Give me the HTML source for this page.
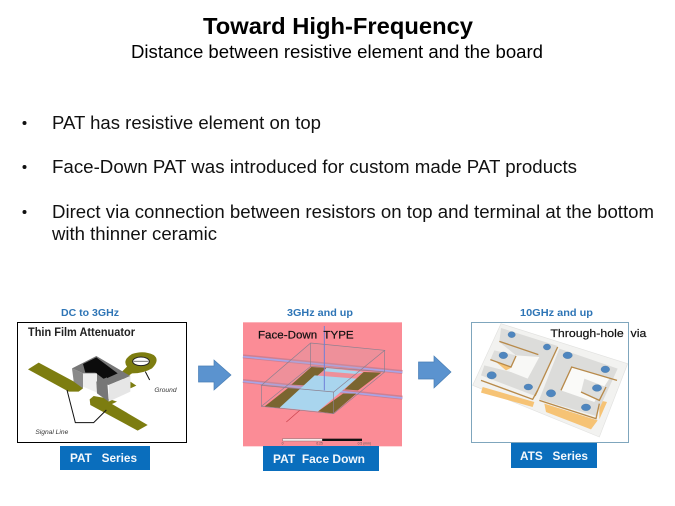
<!DOCTYPE html>
<html><head><meta charset="utf-8"><style>
html,body{margin:0;padding:0;background:#fff}
svg{display:block}
text{font-family:"Liberation Sans",Arial,sans-serif}
</style></head><body>
<svg width="675" height="506" viewBox="0 0 675 506" xmlns="http://www.w3.org/2000/svg">
<rect width="675" height="506" fill="#fff"/>
<text x="203" y="34" font-size="23" font-weight="bold" textLength="270" lengthAdjust="spacingAndGlyphs" fill="#000">Toward High-Frequency</text>
<text x="131" y="58" font-size="18" textLength="412" lengthAdjust="spacingAndGlyphs" fill="#000">Distance between resistive element and the board</text>
<g font-size="18" fill="#111">
<circle cx="24.500" cy="123" r="2" fill="#111"/><circle cx="24.500" cy="167" r="2" fill="#111"/><circle cx="24.500" cy="212" r="2" fill="#111"/>
<text x="52" y="129" textLength="269" lengthAdjust="spacingAndGlyphs">PAT has resistive element on top</text>
<text x="52" y="173" textLength="525" lengthAdjust="spacingAndGlyphs">Face-Down PAT was introduced for custom made PAT products</text>
<text x="52" y="218" textLength="602" lengthAdjust="spacingAndGlyphs">Direct via connection between resistors on top and terminal at the bottom</text>
<text x="52" y="240" textLength="165" lengthAdjust="spacingAndGlyphs">with thinner ceramic</text>
</g>
<g font-size="10.500" font-weight="bold" fill="#2e75b6">
<text x="61" y="316" textLength="58" lengthAdjust="spacingAndGlyphs">DC to 3GHz</text>
<text x="287" y="316" textLength="66" lengthAdjust="spacingAndGlyphs">3GHz and up</text>
<text x="520" y="316" textLength="73" lengthAdjust="spacingAndGlyphs">10GHz and up</text>
</g>

<!-- left panel frame, title, label, arrow -->
<rect x="17.500" y="322.500" width="169" height="120" fill="#fff" stroke="#000" stroke-width="1"/>
<text x="28" y="336" font-size="11.500" font-weight="bold" fill="#222" textLength="107" lengthAdjust="spacingAndGlyphs">Thin Film Attenuator</text>
<g transform="translate(17,340) scale(.33333)">
<path d="M33 88L65 68L190 135L198 145L185 155L155 155Z" fill="#7d7d10"/>
<path d="M218 178L230 168L270 175L300 185L285 192L392 255L362 272L220 195Z" fill="#7d7d10"/>
<path d="M305 105L330 80Q315 60 345 42Q380 30 410 45Q430 60 405 85Q380 100 345 100L320 118Z" fill="#7d7d10"/>
<ellipse cx="372" cy="64" rx="25" ry="13" fill="#fff" stroke="#222" stroke-width="3"/>
<path d="M350 64H394" stroke="#777" stroke-width="3"/>
<path d="M340 125L358 137L340 145Z" fill="#7d7d10"/>
<path d="M165 85L238 48L340 108L275 135L240 125L198 100Z" fill="#777"/>
<path d="M198 72L238 52L302 100L262 118L235 98L205 98Z" fill="#0c0c0c"/>
<path d="M165 85L198 100V145L170 125Z" fill="#8a8a8a"/>
<path d="M198 100L240 100V158L198 140Z" fill="#eee"/>
<path d="M238 125L270 112L275 185L240 160Z" fill="#777"/>
<path d="M275 135L340 108V155L275 185Z" fill="#e6e6e6"/>
<g fill="none" stroke="#111" stroke-width="3">
<path d="M150 150L175 248H230L268 210"/><path d="M385 95L398 120"/>
</g>
<text x="55" y="282" font-size="20" font-style="italic" fill="#333">Signal Line</text>
<text x="412" y="156" font-size="20" font-style="italic" fill="#333">Ground</text>
</g>
<rect x="60" y="446" width="90" height="24" fill="#0a6ebd"/>
<text x="70" y="462" font-size="11.500" font-weight="bold" fill="#f4f8fc" textLength="67" lengthAdjust="spacingAndGlyphs" xml:space="preserve">PAT   Series</text>
<path d="M198.500 366H214V360L231 375L214 390V382H198.500Z" fill="#5b93cf" stroke="#4a7fb5" stroke-width=".7"/>

<!-- middle panel -->
<g transform="translate(243,322) scale(.33333)">
<rect x="0" y="1" width="477" height="372" fill="#fb8c96"/>
<g fill="none">
<path d="M0 103L478 150" stroke="#d07f90" stroke-width="12"/>
<path d="M0 177L478 227" stroke="#d07f90" stroke-width="12"/>
<path d="M0 104L478 151" stroke="#a9a4e6" stroke-width="5"/>
<path d="M0 178L478 228" stroke="#a9a4e6" stroke-width="5"/>
</g>
<path d="M55 190L203 63L425 85L272 210Z" fill="#c79aa6" fill-opacity=".25"/>
<path d="M205 135L250 138L190 190L145 188Z" fill="#7a6530"/>
<path d="M135 198L175 200L110 258L65 253Z" fill="#7a6530"/>
<path d="M362 150L415 152L345 205L305 202Z" fill="#7a6530"/>
<path d="M300 215L340 215L270 275L225 268Z" fill="#7a6530"/>
<path d="M215 160L340 170L225 268L110 257Z" fill="#a9d5ee"/>
<path d="M250 138L362 150L340 156L245 148Z" fill="#a9d5ee"/>
<g fill="none" stroke="#8b7f8f" stroke-width="2">
<path d="M55 190L203 63L425 85L272 210Z"/><path d="M55 190V253L272 275V210"/><path d="M272 275L425 150V85"/><path d="M203 63V133L425 150"/><path d="M55 253L203 133"/>
</g>
<path d="M244 12V205" stroke="#6f7fd8" stroke-width="3"/>
<path d="M170 265L130 300" stroke="#c8404a" stroke-width="2"/>
<text x="45" y="50" font-size="33" fill="#111" stroke="#111" stroke-width=".6" textLength="287" lengthAdjust="spacingAndGlyphs" xml:space="preserve">Face-Down  TYPE</text>
<rect x="119" y="350" width="119" height="7" fill="#f6eaea" stroke="#555" stroke-width="1"/>
<rect x="238" y="350" width="119" height="7" fill="#111"/>
<g font-size="10" fill="#555"><text x="116" y="368">0</text><text x="220" y="368">0.25</text><text x="344" y="368">0.5 (mm)</text></g>
</g>
<rect x="263" y="446" width="116" height="25" fill="#0a6ebd"/>
<text x="273" y="463" font-size="11.500" font-weight="bold" fill="#f4f8fc" textLength="92" lengthAdjust="spacingAndGlyphs" xml:space="preserve">PAT  Face Down</text>

<!-- second arrow -->
<path d="M418.500 362H434V356L451 372L434 388V379H418.500Z" fill="#5b93cf" stroke="#4a7fb5" stroke-width=".7"/>

<!-- right panel -->
<rect x="471.500" y="322.500" width="157" height="120" fill="#fff" stroke="#7fa6bd" stroke-width="1"/>
<g transform="translate(471,322) scale(.33333)">
<path d="M90 5L470 125L385 345L5 190Z" fill="#f2f2f0" stroke="#e2e2e0" stroke-width="2"/>
<path d="M35 195L190 240L185 255L30 212Z" fill="#f6c375"/>
<path d="M220 245L380 295L360 322L225 270Z" fill="#f6c375"/>
<path d="M385 235L408 240L385 292Z" fill="#f6c375"/>
<path d="M75 120L125 135L105 145Z" fill="#f6c375"/>
<path d="M90 18L260 72L192 222L30 160L40 130L120 150L135 100L85 60Z" fill="#dcdcda"/>
<path d="M265 80L440 140L375 282L205 232Z" fill="#dcdcda"/>
<path d="M135 100L205 105L170 170L115 148Z" fill="#f8f8f6"/>
<path d="M300 135L415 170L370 240L270 205Z" fill="#fafaf8"/>
<path d="M70 85L135 100L120 135L58 113Z" fill="#dededc"/>
<path d="M340 170L405 195L385 235L330 210Z" fill="#dededc"/>
<g fill="none" stroke="#b88a4a" stroke-width="4">
<path d="M85 58L202 98"/><path d="M260 75L192 222"/><path d="M30 175L185 232L200 205"/><path d="M270 205L302 135L438 175"/><path d="M205 235L375 290L385 245"/><path d="M58 113L120 135L135 102"/><path d="M330 210L385 235L405 195"/>
</g>
<g fill="#4f86bf" stroke="#3e6f9f" stroke-width="1">
<ellipse cx="122" cy="38" rx="11" ry="9"/><ellipse cx="228" cy="75" rx="11" ry="9"/><ellipse cx="97" cy="100" rx="13" ry="10"/><ellipse cx="62" cy="160" rx="14" ry="11"/><ellipse cx="172" cy="195" rx="13" ry="9"/><ellipse cx="290" cy="100" rx="14" ry="10"/><ellipse cx="403" cy="142" rx="13" ry="10"/><ellipse cx="378" cy="198" rx="14" ry="10"/><ellipse cx="240" cy="214" rx="14" ry="11"/><ellipse cx="345" cy="256" rx="14" ry="10"/>
</g>
<text x="238" y="45" font-size="33" fill="#111" stroke="#111" stroke-width=".6" textLength="288" lengthAdjust="spacingAndGlyphs" xml:space="preserve">Through-hole  via</text>
</g>
<rect x="511" y="443" width="86" height="25" fill="#0a6ebd"/>
<text x="520" y="460" font-size="11.500" font-weight="bold" fill="#f4f8fc" textLength="68" lengthAdjust="spacingAndGlyphs" xml:space="preserve">ATS   Series</text>
</svg>
</body></html>
